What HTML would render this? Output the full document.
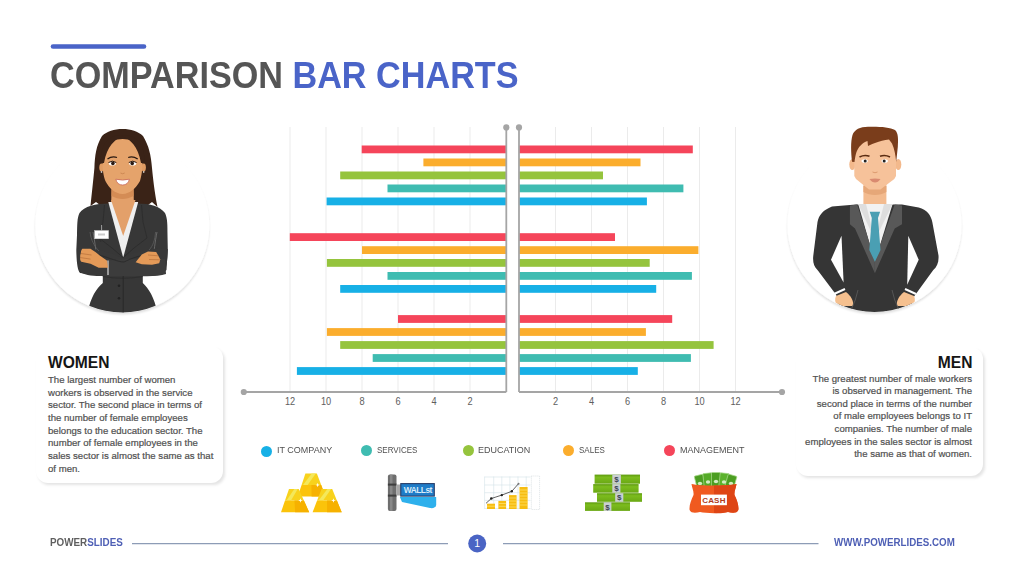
<!DOCTYPE html>
<html><head><meta charset="utf-8">
<style>
html,body{margin:0;padding:0;background:#fff;}
body{width:1024px;height:575px;position:relative;overflow:hidden;font-family:"Liberation Sans",sans-serif;}
.a{position:absolute;white-space:nowrap;}
#title{left:49.8px;top:54px;font-size:37px;font-weight:bold;color:#555555;line-height:44px;transform:scaleX(0.924);transform-origin:0 0;}
#title span{color:#4a64c8;}
.card{position:absolute;background:#fff;border-radius:12px;box-shadow:2px 2.5px 3px -0.5px rgba(0,0,0,0.11);}
.h{font-weight:bold;font-size:15.6px;color:#151515;line-height:18px;}
.body{font-size:9.6px;color:#505050;line-height:12.65px;-webkit-text-stroke:0.2px #505050;}
.leg{font-size:9.8px;color:#505050;line-height:12px;}
svg{position:absolute;left:0;top:0;}
</style></head><body>
<svg width="1024" height="575" viewBox="0 0 1024 575" font-family="Liberation Sans, sans-serif">
<line x1="53" y1="46.5" x2="144" y2="46.5" stroke="#4a64c8" stroke-width="4.6" stroke-linecap="round"/>
<line x1="290" y1="127" x2="290" y2="391" stroke="#ebebeb" stroke-width="1"/>
<line x1="326" y1="127" x2="326" y2="391" stroke="#ebebeb" stroke-width="1"/>
<line x1="362" y1="127" x2="362" y2="391" stroke="#ebebeb" stroke-width="1"/>
<line x1="398" y1="127" x2="398" y2="391" stroke="#ebebeb" stroke-width="1"/>
<line x1="434" y1="127" x2="434" y2="391" stroke="#ebebeb" stroke-width="1"/>
<line x1="470" y1="127" x2="470" y2="391" stroke="#ebebeb" stroke-width="1"/>
<line x1="555.5" y1="127" x2="555.5" y2="391" stroke="#ebebeb" stroke-width="1"/>
<line x1="591.5" y1="127" x2="591.5" y2="391" stroke="#ebebeb" stroke-width="1"/>
<line x1="627.5" y1="127" x2="627.5" y2="391" stroke="#ebebeb" stroke-width="1"/>
<line x1="663.5" y1="127" x2="663.5" y2="391" stroke="#ebebeb" stroke-width="1"/>
<line x1="699.5" y1="127" x2="699.5" y2="391" stroke="#ebebeb" stroke-width="1"/>
<line x1="735.5" y1="127" x2="735.5" y2="391" stroke="#ebebeb" stroke-width="1"/>
<rect x="361.7" y="145.5" width="144.6" height="7.8" fill="#f5455a"/>
<rect x="519" y="145.5" width="173.8" height="7.8" fill="#f5455a"/>
<rect x="423.4" y="158.5" width="82.9" height="7.8" fill="#fbad2d"/>
<rect x="519" y="158.5" width="121.5" height="7.8" fill="#fbad2d"/>
<rect x="340.2" y="171.5" width="166.1" height="7.8" fill="#95c43d"/>
<rect x="519" y="171.5" width="84.0" height="7.8" fill="#95c43d"/>
<rect x="387.5" y="184.5" width="118.8" height="7.8" fill="#3fbcb1"/>
<rect x="519" y="184.5" width="164.4" height="7.8" fill="#3fbcb1"/>
<rect x="326.6" y="197.5" width="179.7" height="7.8" fill="#17b0e6"/>
<rect x="519" y="197.5" width="127.9" height="7.8" fill="#17b0e6"/>
<rect x="289.8" y="233.2" width="216.5" height="7.8" fill="#f5455a"/>
<rect x="519" y="233.2" width="96.0" height="7.8" fill="#f5455a"/>
<rect x="362" y="246.2" width="144.3" height="7.8" fill="#fbad2d"/>
<rect x="519" y="246.2" width="179.4" height="7.8" fill="#fbad2d"/>
<rect x="326.9" y="259" width="179.4" height="7.8" fill="#95c43d"/>
<rect x="519" y="259" width="130.7" height="7.8" fill="#95c43d"/>
<rect x="387.5" y="272" width="118.8" height="7.8" fill="#3fbcb1"/>
<rect x="519" y="272" width="172.9" height="7.8" fill="#3fbcb1"/>
<rect x="340.2" y="285" width="166.1" height="7.8" fill="#17b0e6"/>
<rect x="519" y="285" width="137.2" height="7.8" fill="#17b0e6"/>
<rect x="398" y="315.1" width="108.3" height="7.8" fill="#f5455a"/>
<rect x="519" y="315.1" width="153.2" height="7.8" fill="#f5455a"/>
<rect x="326.9" y="328.1" width="179.4" height="7.8" fill="#fbad2d"/>
<rect x="519" y="328.1" width="126.9" height="7.8" fill="#fbad2d"/>
<rect x="340.2" y="341.1" width="166.1" height="7.8" fill="#95c43d"/>
<rect x="519" y="341.1" width="194.6" height="7.8" fill="#95c43d"/>
<rect x="372.7" y="354.1" width="133.6" height="7.8" fill="#3fbcb1"/>
<rect x="519" y="354.1" width="171.9" height="7.8" fill="#3fbcb1"/>
<rect x="296.9" y="367.1" width="209.4" height="7.8" fill="#17b0e6"/>
<rect x="519" y="367.1" width="118.8" height="7.8" fill="#17b0e6"/>
<line x1="506.3" y1="127.4" x2="506.3" y2="392" stroke="#a5a5a5" stroke-width="1.8"/>
<line x1="519" y1="127.4" x2="519" y2="392" stroke="#a5a5a5" stroke-width="1.8"/>
<line x1="243.8" y1="392" x2="506.3" y2="392" stroke="#a5a5a5" stroke-width="2"/>
<line x1="519" y1="392" x2="782" y2="392" stroke="#a5a5a5" stroke-width="2"/>
<circle cx="506.3" cy="127.4" r="3.1" fill="#a5a5a5"/>
<circle cx="519" cy="127.4" r="3.1" fill="#a5a5a5"/>
<circle cx="243.8" cy="392" r="3.1" fill="#a5a5a5"/>
<circle cx="782" cy="392" r="3.1" fill="#a5a5a5"/>
<text transform="translate(290,405.2) scale(0.87,1)" text-anchor="middle" font-size="10.6" fill="#5e5e5e">12</text>
<text transform="translate(326,405.2) scale(0.87,1)" text-anchor="middle" font-size="10.6" fill="#5e5e5e">10</text>
<text transform="translate(362,405.2) scale(0.87,1)" text-anchor="middle" font-size="10.6" fill="#5e5e5e">8</text>
<text transform="translate(398,405.2) scale(0.87,1)" text-anchor="middle" font-size="10.6" fill="#5e5e5e">6</text>
<text transform="translate(434,405.2) scale(0.87,1)" text-anchor="middle" font-size="10.6" fill="#5e5e5e">4</text>
<text transform="translate(470,405.2) scale(0.87,1)" text-anchor="middle" font-size="10.6" fill="#5e5e5e">2</text>
<text transform="translate(555.5,405.2) scale(0.87,1)" text-anchor="middle" font-size="10.6" fill="#5e5e5e">2</text>
<text transform="translate(591.5,405.2) scale(0.87,1)" text-anchor="middle" font-size="10.6" fill="#5e5e5e">4</text>
<text transform="translate(627.5,405.2) scale(0.87,1)" text-anchor="middle" font-size="10.6" fill="#5e5e5e">6</text>
<text transform="translate(663.5,405.2) scale(0.87,1)" text-anchor="middle" font-size="10.6" fill="#5e5e5e">8</text>
<text transform="translate(699.5,405.2) scale(0.87,1)" text-anchor="middle" font-size="10.6" fill="#5e5e5e">10</text>
<text transform="translate(735.5,405.2) scale(0.87,1)" text-anchor="middle" font-size="10.6" fill="#5e5e5e">12</text>
<defs>
<filter id="csh" x="-20%" y="-20%" width="140%" height="140%"><feGaussianBlur in="SourceAlpha" stdDeviation="1.3"/><feOffset dx="-0.3" dy="2" result="b"/><feComponentTransfer><feFuncA type="linear" slope="0.13"/></feComponentTransfer><feMerge><feMergeNode/><feMergeNode in="SourceGraphic"/></feMerge></filter>
<clipPath id="cw"><circle cx="122.3" cy="225.4" r="87"/><rect x="30" y="100" width="190" height="125"/></clipPath>
<clipPath id="cm"><circle cx="874.5" cy="224.9" r="87"/><rect x="780" y="100" width="190" height="125"/></clipPath>
</defs>
<circle cx="122.3" cy="225.4" r="87" fill="#fff" filter="url(#csh)"/>
<circle cx="874.5" cy="224.9" r="87" fill="#fff" filter="url(#csh)"/>
<g clip-path="url(#cw)">
<!-- hair back -->
<path d="M90.5,206 C92,192 93.5,178 94.4,168 C95,155 96,146 102,136 C107,131 114,128.9 122.6,128.9 C131,128.9 138,131 143,136 C149,146 151,155 152,168 C153,178 154.5,192 157.5,207 L152,202 L148,205 L100,205 L96,202 Z" fill="#3a2317"/>
<!-- neck -->
<path d="M111.6,184 L133.5,184 L134,212 L111,212 Z" fill="#e3a06a"/><path d="M111.6,186 L133.5,186 L133.5,196 C126,200 119,200 111.6,196 Z" fill="#d48c55"/>
<!-- ears -->
<ellipse cx="101.5" cy="167.5" rx="2.2" ry="4" fill="#e09c63"/><circle cx="101.5" cy="172" r="0.8" fill="#fff"/>
<ellipse cx="143.7" cy="167.5" rx="2.2" ry="4" fill="#e09c63"/><circle cx="143.7" cy="172" r="0.8" fill="#fff"/>
<!-- face -->
<path d="M102.5,160 C102,150 108,139 122.6,139 C137,139 143,150 142.5,160 C142.5,170 141.5,176 140,181 C136,188 130,193.9 122.6,193.9 C115,193.9 109,188 105.4,181 C103.5,176 102.5,170 102.5,160 Z" fill="#e5a36b"/>
<!-- hair fringe over forehead sides -->
<path d="M101,163 C100,150 104,141 112,137 C117,135 121,134.5 123,136 C115,139 107,146 104,163 Z" fill="#3a2317"/>
<path d="M144.5,163 C145,150 141,141 133,137 C128,135 124,134.5 122,136 C130,139 138,146 141,163 Z" fill="#3a2317"/>
<!-- brows -->
<path d="M107.5,159 Q112,155.8 117,157.5" stroke="#2a1a12" stroke-width="1.3" fill="none"/>
<path d="M128.2,157.5 Q133,155.8 137.7,159" stroke="#2a1a12" stroke-width="1.3" fill="none"/>
<!-- eyes -->
<ellipse cx="112.4" cy="163.5" rx="3.5" ry="2" fill="#fff"/>
<ellipse cx="132.7" cy="163.5" rx="3.5" ry="2" fill="#fff"/>
<circle cx="112.9" cy="163.4" r="1.8" fill="#2a1a12"/>
<circle cx="132.2" cy="163.4" r="1.8" fill="#2a1a12"/>
<path d="M108.5,162.5 Q112.4,159.8 116.3,162.5" stroke="#2a1a12" stroke-width="1" fill="none"/>
<path d="M128.8,162.5 Q132.7,159.8 136.6,162.5" stroke="#2a1a12" stroke-width="1" fill="none"/>
<!-- nose -->
<path d="M120.5,173 Q122.6,174.5 124.7,173" stroke="#c98450" stroke-width="0.9" fill="none"/>
<!-- mouth -->
<path d="M115.8,179.2 Q122.6,181 129.4,179.2 Q128,185 122.6,185 Q117.2,185 115.8,179.2 Z" fill="#fff" stroke="#c9685a" stroke-width="0.8"/>
<!-- jacket body -->
<path d="M108,203.4 C96,203.6 84,206 79.5,213 C77,218 77.3,225 77,235 L76.3,250 C76.5,262 77.5,270 80,273 L102.8,275.5 L102.8,283 C96,289 90,298 87,316 L158,316 C155,298 149,289 142.8,283 L142.8,275.5 L163,274.3 C166,270 167.5,262 167.8,250 L167.5,235 C167.5,225 167.5,218 165,213 C160,206 150,203.6 138,203.4 Z" fill="#373737"/>
<!-- shirt V -->
<path d="M108.3,202 L138.2,202 L123.2,257.6 Z" fill="#efefef"/>
<path d="M111,200 L135.5,200 L123.2,236 Z" fill="#e3a06a"/>
<!-- lapel lines -->
<path d="M104.5,205 L103,222 L99,238 L112,248 L123.2,257.6" stroke="#2c2c2c" stroke-width="0.9" fill="none"/>
<path d="M141.5,205 L143,222 L147,238 L134,248 L123.2,257.6" stroke="#2c2c2c" stroke-width="0.9" fill="none"/>
<path d="M99,238 L101,242" stroke="#2c2c2c" stroke-width="0.8"/>
<path d="M93,232 C95,242 96,252 97,258" stroke="#888" stroke-width="0.6" fill="none"/>
<path d="M157,232 C155,242 154,252 153,258" stroke="#888" stroke-width="0.6" fill="none"/>
<!-- folded arms -->
<path d="M77,249 C90,247 108,251 122,258 C136,251 155,247 167.8,249 L166.5,270 C162,275.5 152,276.5 140,276 L105,276 C94,276.5 84,275.5 79,271 Z" fill="#383838"/>
<path d="M107,260.5 C125,259 145,258 165,259 L166,274 C160,276 150,276.5 140,276 L107,276 Z" fill="#3c3c3c"/>
<path d="M99,255 C110,258 118,262 124,262 C131,258 142,255 150,254" stroke="#2a2a2a" stroke-width="0.9" fill="none"/>
<path d="M108,260.5 L108,275" stroke="#e8e8e8" stroke-width="1.1"/>
<path d="M90,232 C91,240 94,246 99,251" stroke="#6a6a6a" stroke-width="0.6" fill="none"/>
<path d="M155.5,232 C155,240 153,246 149,250" stroke="#6a6a6a" stroke-width="0.6" fill="none"/>
<!-- hands -->
<path d="M82.3,248.8 L90.5,248.8 C94,251 97,253 99.7,255.5 L106.9,260.6 L108,267.8 L98.7,267.8 L90.5,263.7 L81.3,261.7 C80,260 80,258.5 80.3,257.6 C80,256 80.2,254.5 80.8,253.5 C80.8,251.5 81.3,250 82.3,248.8 Z" fill="#e49a58"/>
<path d="M80.8,253.5 L91.5,255 M80.5,257.6 L90.5,259.1" stroke="#b06a35" stroke-width="0.6" fill="none"/>
<path d="M135.6,262.2 L141.8,254.5 L148,251.4 L156.2,251.9 L158.2,255.5 L160.3,259.6 L159.2,263.2 L152,264.7 L141.8,264.2 Z" fill="#e49a58"/>
<path d="M148,255 L158.5,255.8 M149,259.5 L160,259.8" stroke="#b06a35" stroke-width="0.6" fill="none"/>
<!-- badge -->
<rect x="94.6" y="230.5" width="14" height="8.3" fill="#fff" stroke="#ccc" stroke-width="0.4"/>
<line x1="101.6" y1="225" x2="101.6" y2="230.5" stroke="#bbb" stroke-width="0.8"/>
<rect x="98" y="233.5" width="7" height="2" fill="#ccc"/>
<!-- buttons -->
<circle cx="119" cy="285.8" r="1.3" fill="#222"/>
<circle cx="119" cy="298.3" r="1.3" fill="#222"/>
<line x1="123.2" y1="276" x2="123.2" y2="316" stroke="#262626" stroke-width="0.8"/><path d="M102.8,276.5 Q123,280 142.8,276.5" stroke="#2a2a2a" stroke-width="0.7" fill="none"/>
</g>
<g clip-path="url(#cm)">
<!-- neck -->
<path d="M863.4,180 L886.4,180 L886.4,204 L863.4,204 Z" fill="#f3bb8f"/><path d="M863.4,186 L886.4,186 L886.4,192 C880,196 870,196 863.4,192 Z" fill="#e6a778"/>
<!-- ears -->
<ellipse cx="852.3" cy="164.5" rx="3" ry="5.5" fill="#f3b98c"/>
<ellipse cx="898.3" cy="164.5" rx="3" ry="5.5" fill="#f3b98c"/>
<!-- face -->
<path d="M854.3,136 L896,136 L896,176 L894.3,179 L880.4,189.5 L869,189.5 L856,179 L854.3,176 Z" fill="#f6c29a"/>
<!-- hair -->
<path d="M852,161.7 C851,152 850.5,142 852.5,135 C854.5,129.5 860,127 868,126.8 C878,126.5 890,127 895,130 C898.5,133 898.3,140 897.8,147 L896.2,162 C895.5,155 894.5,149 892,143.5 L889,139.5 C884,140 880,141 875,143 C872,144 870,145 868,146 L867.5,141 C862,143 858.5,147 856.5,152 C855.5,155 855,158 854.5,162 Z" fill="#7a3d1b"/>
<!-- brows -->
<path d="M859.5,157 Q864.5,154.3 869.5,156.3" stroke="#5a2c12" stroke-width="1.6" fill="none"/>
<path d="M880,156.3 Q885,154.3 890,157" stroke="#5a2c12" stroke-width="1.6" fill="none"/>
<!-- eyes -->
<ellipse cx="864.7" cy="161" rx="3.2" ry="1.8" fill="#fff"/>
<ellipse cx="884.7" cy="161" rx="3.2" ry="1.8" fill="#fff"/>
<circle cx="865.2" cy="161" r="1.5" fill="#222"/>
<circle cx="884.2" cy="161" r="1.5" fill="#222"/>
<!-- nose/mouth -->
<path d="M872.5,172 Q875,173.5 877.5,172" stroke="#d9966a" stroke-width="0.9" fill="none"/>
<path d="M869.5,179 Q875,178 880.5,179 Q878,182.5 875,182.5 Q872,182.5 869.5,179 Z" fill="#d98a70"/>
<!-- jacket -->
<path d="M832,206.5 L856,204.4 L902,204.4 L918.7,207.5 C927,210 931,215 932.3,222 L938.5,255.5 C939,262 937,267 933.3,270 L913.5,297.2 L910,316 L840,316 L836.3,295 L817.5,270 C814,267 812.5,262 813.3,255.5 L817.5,222 C819,215 823,210 832,206.5 Z" fill="#353535"/>
<path d="M841.5,235.7 L831,259.7 L843.6,282.6 Z" fill="#fff"/>
<path d="M908.3,235.7 L918.7,259.7 L907.2,284.7 Z" fill="#fff"/>
<!-- shirt -->
<path d="M858.2,204 L892.6,204 L874.9,262 Z" fill="#f2f2f2"/>
<path d="M858.2,204 L866,204 L874.9,240 Z" fill="#dedede"/>
<path d="M892.6,204 L884,204 L874.9,240 Z" fill="#dedede"/>
<!-- lapels -->
<path d="M849.9,205.4 L857.2,204.4 L874.9,259.7 L874.9,273.2 L855,228.4 L849.9,224.2 Z" fill="#585858"/>
<path d="M902,205.4 L894.7,204.4 L874.9,259.7 L874.9,273.2 L894.7,228.4 L902,224.2 Z" fill="#585858"/>
<!-- tie -->
<path d="M869.7,211.7 L880.1,211.7 L878,218 L880.5,250 L874.9,261.8 L869.3,250 L871.8,218 Z" fill="#4a9fb3"/>
<!-- hands & cuffs -->
<path d="M836,296 L846,292 C851,296 854,301 853,306 L837,306 C835,302 834.5,299 836,296 Z" fill="#f5c08f"/>
<path d="M914,296 L904,292 C899,296 896,301 897,306 L913,306 C915,302 915.5,299 914,296 Z" fill="#f5c08f"/>
<path d="M834,294 L845,289" stroke="#fff" stroke-width="2"/>
<path d="M916,294 L905,289" stroke="#fff" stroke-width="2"/>
<path d="M858,290 Q856,300 851,310" stroke="#555" stroke-width="1" fill="none"/>
<path d="M892,290 Q894,300 899,310" stroke="#555" stroke-width="1" fill="none"/>
</g>

<defs>
<linearGradient id="gm" x1="0" y1="0" x2="0" y2="1"><stop offset="0" stop-color="#5d9a0e"/><stop offset="0.3" stop-color="#7cbc1e"/><stop offset="1" stop-color="#6aa814"/></linearGradient>
<linearGradient id="gc" x1="0" y1="0" x2="0" y2="1"><stop offset="0" stop-color="#fde26a"/><stop offset="1" stop-color="#f5b800"/></linearGradient>
</defs>
<!-- gold bars -->
<g>
<path d="M305.4,473.6 L316.9,473.6 L321.2,485 L301.6,485 Z" fill="#f8d21c"/>
<path d="M303.1,485 L311.7,473.6 L315.8,473.6 L307.6,485 Z" fill="#f4e85a"/>
<path d="M301.6,485 L321.2,485 L325.5,496.6 L297.7,496.6 Z" fill="#fbc30a"/>
<path d="M311.4,485 L321.2,485 L325.5,496.6 L311.6,496.6 Z" fill="#f6b100"/>
<path d="M317.6626086956522,482.8 L318.2626086956522,484.4 L319.86260869565217,485 L318.2626086956522,485.6 L317.6626086956522,487.2 L317.06260869565216,485.6 L315.4626086956522,485 L317.06260869565216,484.4 Z" fill="#fff"/>
<path d="M289,488.9 L298.7,488.9 L303.9,500.5 L285.0,500.5 Z" fill="#f8d21c"/>
<path d="M286.5,500.5 L294.3,488.9 L297.7,488.9 L291.0,500.5 Z" fill="#f4e85a"/>
<path d="M285.0,500.5 L303.9,500.5 L309.2,512.3 L281,512.3 Z" fill="#fbc30a"/>
<path d="M294.5,500.5 L303.9,500.5 L309.2,512.3 L295.1,512.3 Z" fill="#f6b100"/>
<path d="M300.4051282051282,498.3 L301.00512820512824,499.9 L302.6051282051282,500.5 L301.00512820512824,501.1 L300.4051282051282,502.7 L299.8051282051282,501.1 L298.20512820512823,500.5 L299.8051282051282,499.9 Z" fill="#fff"/>
<path d="M321.6,488.9 L332.20000000000005,488.9 L336.9,500.5 L317.1,500.5 Z" fill="#f8d21c"/>
<path d="M318.6,500.5 L327.4,488.9 L331.1,488.9 L323.1,500.5 Z" fill="#f4e85a"/>
<path d="M317.1,500.5 L336.9,500.5 L341.7,512.3 L312.6,512.3 Z" fill="#fbc30a"/>
<path d="M327.0,500.5 L336.9,500.5 L341.7,512.3 L327.1,512.3 Z" fill="#f6b100"/>
<path d="M333.4094017094017,498.3 L334.00940170940174,499.9 L335.6094017094017,500.5 L334.00940170940174,501.1 L333.4094017094017,502.7 L332.8094017094017,501.1 L331.20940170940173,500.5 L332.8094017094017,499.9 Z" fill="#fff"/>
</g>
<!-- wall st sign -->
<g>
<rect x="387.9" y="474.6" width="8.6" height="36.3" rx="2" fill="#6e6e6e"/>
<rect x="390" y="474.6" width="2.5" height="36.3" fill="#888"/>
<rect x="387.9" y="483.6" width="8.6" height="2" fill="#3e3e3e"/>
<rect x="387.9" y="494.6" width="8.6" height="2" fill="#3e3e3e"/>
<rect x="396.5" y="484.5" width="4.5" height="11" fill="#a8a8a8"/>
<path d="M399.9,497 L436.2,497 L436.2,505 C436,507.5 433,508.5 430,508 L402,502 Z" fill="#2eb0ec"/>
<rect x="400.8" y="483.6" width="33.5" height="12.5" fill="#1f7cc8" stroke="#2a3f6a" stroke-width="1.1"/>
<text x="417.8" y="493.2" text-anchor="middle" font-size="8.4" font-weight="bold" fill="#d9ecfa" letter-spacing="-0.5">WALLst</text>
</g>
<!-- growth chart -->
<g stroke="#d3e3e8" stroke-width="0.6">
<line x1="484.6" y1="476.5" x2="484.6" y2="509"/><line x1="493.7" y1="476.5" x2="493.7" y2="509"/><line x1="501.8" y1="476.5" x2="501.8" y2="509"/><line x1="509.9" y1="476.5" x2="509.9" y2="509"/><line x1="518" y1="476.5" x2="518" y2="509"/><line x1="526.2" y1="476.5" x2="526.2" y2="509"/>
<line x1="484.6" y1="477" x2="530.5" y2="477"/><line x1="484.6" y1="485" x2="530.5" y2="485"/><line x1="484.6" y1="492.7" x2="530.5" y2="492.7"/><line x1="484.6" y1="500.4" x2="530.5" y2="500.4"/><line x1="484.6" y1="508.5" x2="530.5" y2="508.5"/>
</g>
<rect x="531.4" y="476" width="8.2" height="33.5" fill="none" stroke="#c8d0d4" stroke-width="0.6" stroke-dasharray="1,1"/>
<g fill="#f7bd12">
<rect x="487" y="503.7" width="8" height="5.3"/><rect x="498.4" y="500.9" width="7.7" height="8.1"/><rect x="509" y="495.1" width="7.6" height="13.9"/><rect x="519.5" y="487" width="8.1" height="22"/>
</g>
<g stroke="#fde572" stroke-width="0.7">
<line x1="487" y1="506.2" x2="495" y2="506.2"/><line x1="498.4" y1="503.5" x2="506.1" y2="503.5"/><line x1="498.4" y1="506.3" x2="506.1" y2="506.3"/>
<line x1="509" y1="498" x2="516.6" y2="498"/><line x1="509" y1="501" x2="516.6" y2="501"/><line x1="509" y1="504" x2="516.6" y2="504"/><line x1="509" y1="507" x2="516.6" y2="507"/>
<line x1="519.5" y1="490" x2="527.6" y2="490"/><line x1="519.5" y1="493" x2="527.6" y2="493"/><line x1="519.5" y1="496" x2="527.6" y2="496"/><line x1="519.5" y1="499" x2="527.6" y2="499"/><line x1="519.5" y1="502" x2="527.6" y2="502"/><line x1="519.5" y1="505" x2="527.6" y2="505"/>
</g>
<polyline points="486,503.3 491.3,498.5 501.8,495.1 511.8,491.3 518.5,483.7" fill="none" stroke="#3a3a3a" stroke-width="0.8"/>
<circle cx="491.3" cy="498.5" r="1.3" fill="#222"/><circle cx="501.8" cy="495.1" r="1.2" fill="#222"/><circle cx="511.8" cy="491.3" r="1.2" fill="#222"/><circle cx="518.5" cy="483.7" r="1" fill="#777"/>
<!-- money stacks -->
<g>
<rect x="594.6" y="474.6" width="45.4" height="9.1" fill="url(#gm)"/>
<rect x="593.2" y="484.1" width="45.4" height="8.6" fill="url(#gm)"/>
<rect x="597" y="493.2" width="45" height="8.6" fill="url(#gm)"/>
<rect x="585" y="502.3" width="45" height="8.6" fill="url(#gm)"/>
<rect x="612.3" y="474.6" width="8.6" height="9.1" fill="#c9cfd2"/>
<rect x="612.3" y="484.1" width="8.1" height="8.6" fill="#c9cfd2"/>
<rect x="615.2" y="493.2" width="8.1" height="8.6" fill="#c9cfd2"/>
<rect x="603.7" y="502.3" width="7.7" height="8.6" fill="#c9cfd2"/>
<g font-size="8" font-weight="bold" fill="#3b4552" text-anchor="middle">
<text x="616.6" y="482.2">$</text><text x="616.4" y="491.3">$</text><text x="619.2" y="500.4">$</text><text x="607.5" y="509.5">$</text>
</g>
</g>
<!-- cash bag -->
<g>
<g stroke="#a9d98c" stroke-width="0.7">
<rect x="695.5" y="475" width="9" height="13" rx="0.8" fill="#4c9e22" transform="rotate(-14 700 481)"/>
<rect x="703.5" y="473.2" width="9" height="14" rx="0.8" fill="#55ab28" transform="rotate(-6 708 480)"/>
<rect x="711.5" y="472.5" width="9" height="14.5" rx="0.8" fill="#4c9e22"/>
<rect x="719.5" y="473.2" width="9" height="14" rx="0.8" fill="#5bb22c" transform="rotate(6 724 480)"/>
<rect x="726.5" y="475" width="9" height="13" rx="0.8" fill="#4c9e22" transform="rotate(16 731 481)"/>
</g>
<g fill="#d3ecc0"><ellipse cx="700" cy="483.5" rx="2.2" ry="1.8"/><ellipse cx="708" cy="482" rx="2.2" ry="1.8"/><ellipse cx="716" cy="481.5" rx="2.2" ry="1.8"/><ellipse cx="724" cy="482" rx="2.2" ry="1.8"/><ellipse cx="731" cy="483.5" rx="2.2" ry="1.8"/></g>
<path d="M691.5,484 C700,486 728,486 736.5,484 C736,488 734,491 734.5,495 C737,500 739,506 738.3,510 C737,513.5 732,513 728,512 C722,513.5 706,513.5 700,512 C696,513 691,513.5 689.6,510 C689,506 691,500 693.5,495 C694,491 692,488 691.5,484 Z" fill="#f05a20"/>
<path d="M714,485.5 C722,485.5 731,485.2 736.5,484 C736,488 734,491 734.5,495 C737,500 739,506 738.3,510 C737,513.5 732,513 728,512 C722,513.5 718,513.5 714,513 Z" fill="#de4515"/>
<rect x="701" y="494.6" width="25.9" height="10.6" fill="#fff"/>
<text x="713.9" y="503.3" text-anchor="middle" font-size="8" font-weight="bold" fill="#b03a1c" letter-spacing="0.2">CASH</text>
</g>

<line x1="132" y1="543.7" x2="448" y2="543.7" stroke="#8d9cb6" stroke-width="1.2"/>
<line x1="503" y1="543.7" x2="818.5" y2="543.7" stroke="#8d9cb6" stroke-width="1.2"/>
<circle cx="477.2" cy="543.5" r="9" fill="#4a64c4"/>
<text x="477.2" y="547.3" text-anchor="middle" font-size="10.5" fill="#fff">1</text>
</svg>
<div id="title" class="a">COMPARISON <span>BAR CHARTS</span></div>
<!--CARDS-->
<div class="card" style="left:36px;top:346px;width:187px;height:137px;"></div>
<div class="card" style="left:796px;top:347px;width:187px;height:129px;"></div>
<div class="a h" style="left:48px;top:353.5px;">WOMEN</div>
<div class="a body" style="left:48px;top:374px;">The largest number of women<br>workers is observed in the service<br>sector. The second place in terms of<br>the number of female employees<br>belongs to the education sector. The<br>number of female employees in the<br>sales sector is almost the same as that<br>of men.</div>
<div class="a h" style="right:51.5px;top:353.5px;">MEN</div>
<div class="a body" style="right:52px;top:372.5px;text-align:right;">The greatest number of male workers<br>is observed in management. The<br>second place in terms of the number<br>of male employees belongs to IT<br>companies. The number of male<br>employees in the sales sector is almost<br>the same as that of women.</div>
<div class="a" style="left:261.2px;top:445.5px;width:11px;height:11px;border-radius:50%;background:#17b0e6"></div>
<div class="a leg" style="left:276.7px;top:443.8px;transform:scaleX(0.918);transform-origin:0 0;">IT COMPANY</div>
<div class="a" style="left:361.4px;top:445.4px;width:11px;height:11px;border-radius:50%;background:#3fbcb1"></div>
<div class="a leg" style="left:376.9px;top:443.7px;transform:scaleX(0.8170200000000001);transform-origin:0 0;">SERVICES</div>
<div class="a" style="left:462.7px;top:445.2px;width:11px;height:11px;border-radius:50%;background:#95c43d"></div>
<div class="a leg" style="left:478.2px;top:443.5px;transform:scaleX(0.918);transform-origin:0 0;">EDUCATION</div>
<div class="a" style="left:563.4px;top:445.2px;width:11px;height:11px;border-radius:50%;background:#fbad2d"></div>
<div class="a leg" style="left:578.9px;top:443.5px;transform:scaleX(0.8170200000000001);transform-origin:0 0;">SALES</div>
<div class="a" style="left:664.0px;top:445.3px;width:11px;height:11px;border-radius:50%;background:#f5455a"></div>
<div class="a leg" style="left:679.5px;top:443.6px;transform:scaleX(0.918);transform-origin:0 0;">MANAGEMENT</div>
<div class="a" style="left:50.3px;top:537px;font-size:10px;font-weight:bold;color:#5f5f5f;transform:scaleX(0.985);transform-origin:0 0;">POWER<span style="color:#4e5fb5">SLIDES</span></div>
<div class="a" style="left:834px;top:537px;font-size:10px;font-weight:bold;color:#4e5fb5;transform:scaleX(0.975);transform-origin:0 0;">WWW.POWERLIDES.COM</div>
</body></html>
